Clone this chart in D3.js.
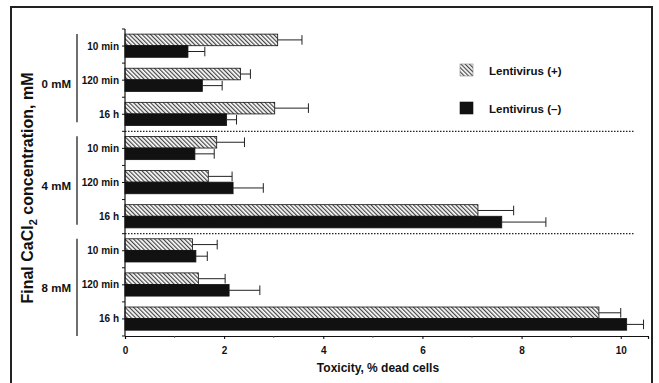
<!DOCTYPE html>
<html>
<head>
<meta charset="utf-8">
<script src="https://cdn.jsdelivr.net/npm/d3@7"></script>
<style>
  body { margin: 0; background: #fff; }
  text { font-family: "Liberation Sans", Arial, Helvetica, sans-serif; font-weight: bold; fill: #111; }
</style>
</head>
<body>
<svg id="chart" width="659" height="383"></svg>
<script>
// ---- data ----
var groups      = ["0 mM", "4 mM", "8 mM"];
var times       = ["10 min", "120 min", "16 h"];
var plusMean    = [3.08, 2.33, 3.02, 1.85, 1.68, 7.12, 1.36, 1.48, 9.56];
var plusErr     = [0.49, 0.20, 0.68, 0.56, 0.48, 0.72, 0.50, 0.54, 0.44];
var minusMean   = [1.27, 1.56, 2.05, 1.41, 2.18, 7.60, 1.43, 2.10, 10.12];
var minusErr    = [0.34, 0.40, 0.20, 0.39, 0.61, 0.89, 0.23, 0.62, 0.34];
var seriesNames = ["Lentivirus (+)", "Lentivirus (\u2013)"];
var xTicks      = [0, 2, 4, 6, 8, 10];

var svg = d3.select("#chart");

// frame
svg.append("rect")
  .attr("x", 11).attr("y", 7)
  .attr("width", 641).attr("height", 400)
  .attr("fill", "none")
  .attr("stroke", "#222")
  .attr("stroke-width", 2);

// hatch pattern
var defs = svg.append("defs");
var pat = defs.append("pattern")
  .attr("id", "hatch")
  .attr("patternUnits", "userSpaceOnUse")
  .attr("width", 3).attr("height", 3)
  .attr("patternTransform", "rotate(-45)");
pat.append("rect").attr("width", 3).attr("height", 3).attr("fill", "#fff");
pat.append("line")
  .attr("x1", 0.6).attr("y1", 0).attr("x2", 0.6).attr("y2", 3)
  .attr("stroke", "#444").attr("stroke-width", 1.2);

// build rows
var rows = [];
groups.forEach(function (g, gi) {
  times.forEach(function (t, ti) {
    var i = gi * times.length + ti;
    rows.push({ key: g + "|" + t, group: g, time: t,
      vals: [{ s: 0, v: plusMean[i], e: plusErr[i] },
             { s: 1, v: minusMean[i], e: minusErr[i] }] });
  });
});

// scales
var x = d3.scaleLinear().domain([0, 10.55]).range([125, 648]);
var y = d3.scaleBand().domain(rows.map(function (d) { return d.key; })).range([29, 336]);
var bw = y.bandwidth();
var ySub = d3.scaleBand().domain([0, 1]).range([bw * 0.15, bw * 0.83]);

// dotted separators between groups
[1, 2].forEach(function (gi) {
  var yy = y(rows[gi * times.length].key);
  svg.append("line")
    .attr("x1", x(0)).attr("x2", 635)
    .attr("y1", yy).attr("y2", yy)
    .attr("stroke", "#222")
    .attr("stroke-width", 1.2)
    .attr("stroke-dasharray", "1.5,1.5");
});

// bars
var rowG = svg.selectAll(".row")
  .data(rows)
  .enter().append("g")
  .attr("class", "row")
  .attr("transform", function (d) { return "translate(0," + y(d.key) + ")"; });

rowG.selectAll("rect.bar")
  .data(function (d) { return d.vals; })
  .enter().append("rect")
  .attr("class", "bar")
  .attr("x", x(0))
  .attr("y", function (d) { return ySub(d.s); })
  .attr("width", function (d) { return x(d.v) - x(0); })
  .attr("height", ySub.bandwidth())
  .attr("fill", function (d) { return d.s === 0 ? "url(#hatch)" : "#111"; })
  .attr("stroke", "#111")
  .attr("stroke-width", 0.8);

// error bars
var errG = rowG.selectAll("g.err")
  .data(function (d) { return d.vals; })
  .enter().append("g")
  .attr("class", "err");

errG.append("line")
  .attr("x1", function (d) { return x(d.v); })
  .attr("x2", function (d) { return x(d.v + d.e); })
  .attr("y1", function (d) { return ySub(d.s) + ySub.bandwidth() / 2; })
  .attr("y2", function (d) { return ySub(d.s) + ySub.bandwidth() / 2; })
  .attr("stroke", "#222").attr("stroke-width", 1);

errG.append("line")
  .attr("x1", function (d) { return x(d.v + d.e); })
  .attr("x2", function (d) { return x(d.v + d.e); })
  .attr("y1", function (d) { return ySub(d.s) + 1; })
  .attr("y2", function (d) { return ySub(d.s) + ySub.bandwidth() - 1; })
  .attr("stroke", "#222").attr("stroke-width", 1);

// y axis line + ticks
svg.append("line")
  .attr("x1", x(0)).attr("x2", x(0))
  .attr("y1", 29).attr("y2", 336)
  .attr("stroke", "#111").attr("stroke-width", 1.2);

var bounds = rows.map(function (d) { return y(d.key); }).concat([336]);
bounds.forEach(function (b) {
  svg.append("line")
    .attr("x1", x(0) - 3).attr("x2", x(0))
    .attr("y1", b).attr("y2", b)
    .attr("stroke", "#111").attr("stroke-width", 1);
});

rows.forEach(function (d) {
  var cy = y(d.key) + bw / 2;
  svg.append("line")
    .attr("x1", x(0) - 3).attr("x2", x(0))
    .attr("y1", cy).attr("y2", cy)
    .attr("stroke", "#111").attr("stroke-width", 1);
  svg.append("text")
    .attr("x", x(0) - 6)
    .attr("y", cy + 3.5)
    .attr("font-size", "10px")
    .style("text-anchor", "end")
    .text(d.time);
});

// group labels and brackets
groups.forEach(function (g, gi) {
  var top = y(rows[gi * times.length].key);
  var bot = gi === groups.length - 1 ? 336 : y(rows[(gi + 1) * times.length].key) - 9;
  var mid = y(rows[gi * times.length + 1].key) + bw / 2;
  svg.append("line")
    .attr("x1", 77).attr("x2", 77)
    .attr("y1", top + 5).attr("y2", bot)
    .attr("stroke", "#222").attr("stroke-width", 1.3);
  svg.append("text")
    .attr("x", 71)
    .attr("y", mid + 7.5)
    .attr("font-size", "11.5px")
    .style("text-anchor", "end")
    .text(g);
});

// x axis
var xAxis = svg.append("g")
  .attr("transform", "translate(0,336)")
  .call(d3.axisBottom(x).tickValues(xTicks).tickSize(3).tickPadding(8));
xAxis.select(".domain").attr("stroke", "#111").attr("stroke-width", 1.2);
xAxis.selectAll("text").attr("font-size", "10px").style("font-family", null);

// minor ticks at odd values
[1, 3, 5, 7, 9].forEach(function (v) {
  svg.append("line")
    .attr("x1", x(v)).attr("x2", x(v))
    .attr("y1", 336).attr("y2", 338)
    .attr("stroke", "#555").attr("stroke-width", 0.8);
});

svg.append("text")
  .attr("x", 378).attr("y", 372)
  .attr("font-size", "12px")
  .style("text-anchor", "middle")
  .text("Toxicity, % dead cells");

// y title
var yt = svg.append("text")
  .attr("transform", "translate(33,188) rotate(-90)")
  .attr("font-size", "16px")
  .style("text-anchor", "middle");
yt.append("tspan").text("Final CaCl");
yt.append("tspan").attr("font-size", "11px").attr("dy", 4).text("2");
yt.append("tspan").attr("dy", -4).text(" concentration, mM");

// legend
var legend = svg.selectAll(".legend")
  .data(seriesNames)
  .enter().append("g")
  .attr("class", "legend")
  .attr("transform", function (d, i) { return "translate(460," + (64 + i * 38) + ")"; });

legend.append("rect")
  .attr("width", 13).attr("height", 12)
  .attr("fill", function (d, i) { return i === 0 ? "url(#hatch)" : "#111"; })
  .attr("stroke", function (d, i) { return i === 0 ? "#888" : "#111"; })
  .attr("stroke-width", 0.6);

legend.append("text")
  .attr("x", 29).attr("y", 11)
  .attr("font-size", "11.5px")
  .text(function (d) { return d; });
</script>
</body>
</html>
